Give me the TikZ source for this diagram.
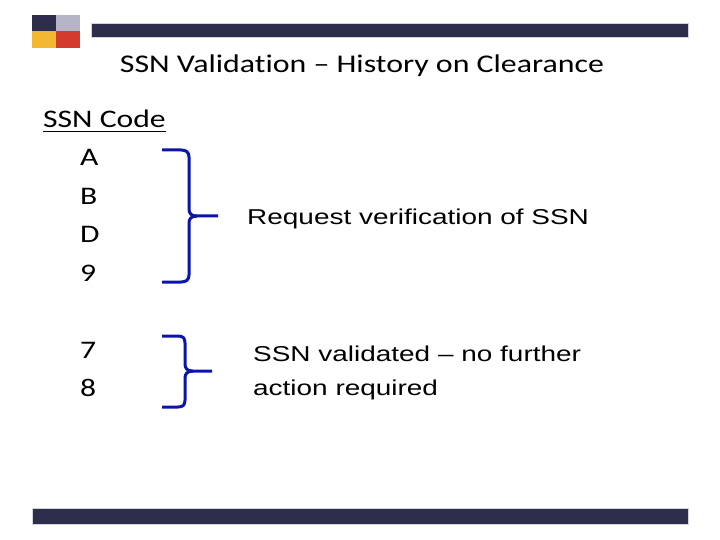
\documentclass[tikz,border=0pt]{standalone}
\usepackage{fontspec}
\newfontfamily\calfont[FakeStretch=1.25,Ligatures=NoCommon,RawFeature={-liga;-clig;-dlig}]{Carlito}
\newfontfamily\arfont[FakeStretch=1.3]{Liberation Sans}
\definecolor{navy}{RGB}{46,45,76}
\definecolor{lgray}{RGB}{182,181,200}
\definecolor{lyellow}{RGB}{244,183,50}
\definecolor{lred}{RGB}{211,60,44}
\definecolor{braceblue}{RGB}{10,20,168}
\tikzset{
  titletext/.style={inner sep=0pt, font=\calfont\fontsize{25.5}{30}\selectfont, anchor=base},
  bodytext/.style={inner sep=0pt, font=\calfont\fontsize{25.3}{30}\selectfont, anchor=base west},
  notetext/.style={inner sep=0pt, font=\arfont\fontsize{21.5}{26}\selectfont, anchor=base west},
  brace/.style={draw=braceblue, line width=3pt, line cap=butt, line join=round},
  bar/.style={fill=navy, draw=lgray!60, line width=0.4pt}
}
\begin{document}
\begin{tikzpicture}[x=1pt,y=-1pt]
\useasboundingbox (0,0) rectangle (720,540);
\fill[white] (0,0) rectangle (720,540);
% logo squares
\fill[navy] (32,15) rectangle (56,31);
\fill[lgray] (56,15) rectangle (80,31);
\fill[lyellow] (32,31) rectangle (56,48);
\fill[lred] (56,31) rectangle (80,48);
% bars
\path[bar] (91,23) rectangle (688,37);
\path[bar] (32,508) rectangle (688,524);
% title
\node[titletext] (title) at (362,73) {SSN Validation – History on Clearance};
% list
\node[bodytext] (code) at (43,128) {SSN Code};
\draw[line width=1.6pt] ([yshift=-3.5pt]code.base west) -- ([yshift=-3.5pt]code.base east);
\node[bodytext] (a) at (80,166) {A};
\node[bodytext] (b) at (80,205) {B};
\node[bodytext] (d) at (80,243) {D};
\node[bodytext] (n9) at (80,281) {9};
\node[bodytext] (n7) at (80,358) {7};
\node[bodytext] (n8) at (80,396) {8};
% notes
\node[notetext] (req) at (247,224.5) {Request verification of SSN};
\node[notetext] (val1) at (253,361.5) {SSN validated – no further};
\node[notetext] (val2) at (253,395.5) {action required};
% braces
\coordinate (tip1) at (218,216);
\coordinate (tip2) at (212,371);
\draw[brace] (162,150) -- (181,150) .. controls (186,150) and (189,152) .. (189,157) -- (189,209) .. controls (189,213) and (191,216) .. (196,216) -- (tip1);
\draw[brace] (162,282) -- (181,282) .. controls (186,282) and (189,280) .. (189,275) -- (189,223) .. controls (189,219) and (191,216) .. (197,216);
\draw[brace] (162,336) -- (178,336) .. controls (183,336) and (185,338) .. (185,343) -- (185,364) .. controls (185,368) and (187,371) .. (192,371) -- (tip2);
\draw[brace] (162,407) -- (178,407) .. controls (183,407) and (185,405) .. (185,400) -- (185,378) .. controls (185,374) and (187,371) .. (193,371);
\end{tikzpicture}
\end{document}
